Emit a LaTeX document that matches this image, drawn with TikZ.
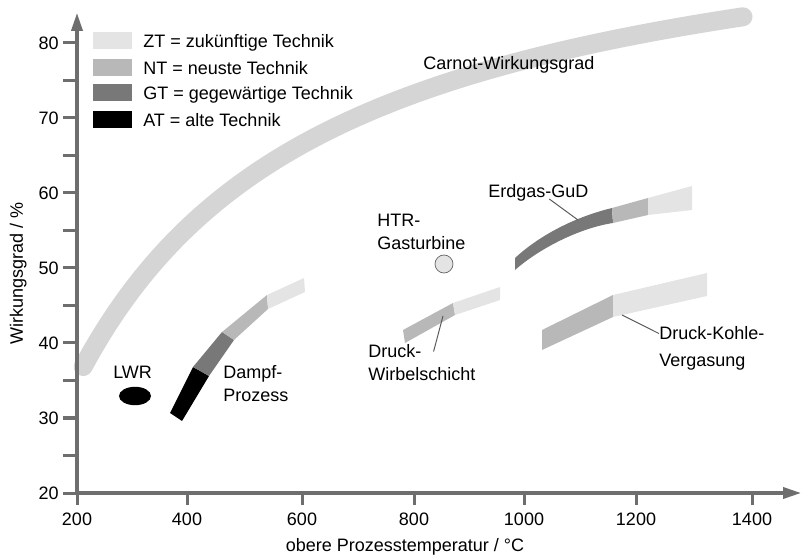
\documentclass[tikz,border=0pt]{standalone}
\usepackage{fontspec}
\setmainfont{Liberation Sans}
\usetikzlibrary{arrows.meta,calc}
\definecolor{zt}{HTML}{E4E4E4}
\definecolor{nt}{HTML}{B8B8B8}
\definecolor{gt}{HTML}{787878}
\definecolor{carnotgrau}{HTML}{D5D5D5}
\definecolor{achsgrau}{HTML}{6E6E6E}

\begin{document}
\begin{tikzpicture}[x=0.025cm,y=-0.025cm,font=\fontsize{12.8}{15}\selectfont]
\tikzset{achse/.style={draw=achsgrau, line width=0.08cm, -{Triangle[length=0.45cm,width=0.28cm]}},
  strich/.style={draw=achsgrau, line width=0.075cm},
  lbl/.style={anchor=base west, inner sep=0pt},
  leader/.style={draw=black!65, line width=0.7pt}}
\useasboundingbox (0,0) rectangle (802,556);
\draw[carnotgrau, line width=0.475cm, line cap=round] plot[domain=211:1384, samples=80]
  ({77+(\x-200)*0.5625}, {493-(82.1-305.17/((\x+257)*0.01))*7.5});
\foreach \v in {20,25,...,80}
  \draw[strich] (63,{493-(\v-20)*7.5}) -- (77,{493-(\v-20)*7.5});
\foreach \v in {20,30,...,80}
  \node[anchor=east, inner sep=0pt] (yl\v) at (59,{493-(\v-20)*7.5}) {\v};
\foreach \t/\xx in {200/77,400/187,600/302,800/414,1000/524,1200/636,1400/752} {
  \draw[strich] (\xx,493) -- (\xx,505);
  \node[inner sep=0pt] (xl\t) at (\xx,519.5) {\t};
}
\draw[achse] (77,493) -- (77,13);
\draw[achse] (75.5,493) -- (801,493);
\node[rotate=90, anchor=base, inner sep=0pt] (ytitel) at (23,273) {Wirkungsgrad / \%};
\node[anchor=base, inner sep=0pt] (xtitel) at (405,551) {obere Prozesstemperatur / °C};
\foreach \f/\y/\t in {zt/32/{ZT = zukünftige Technik}, nt/59/{NT = neuste Technik},
    gt/84/{GT = gegewärtige Technik}, black/111/{AT = alte Technik}} {
  \fill[\f] (93,\y) rectangle (132,\y+17);
  \node[lbl] (leg\f) at (143,\y+16) {\t};
}
\node[lbl] (carnot) at (423,70) {Carnot-Wirkungsgrad};
\fill[black] (170,413) -- (182,421) -- (209,376) -- (193,367) -- cycle;
\fill[gt] (193,367) -- (209,376) -- (234,340) -- (222,332) -- cycle;
\fill[nt] (222,332) -- (234,340) -- (268,309) -- (267,295) -- cycle;
\fill[zt] (267,295) -- (268,309) -- (305,292) -- (304,278) -- cycle;
\fill[nt] (403,330) -- (405,343) -- (455,315) -- (453,303) -- cycle;
\fill[zt] (453,303) -- (455,315) -- (500,300) -- (500,287) -- cycle;
\fill[gt] (515,258) .. controls (540,235) and (575,217) .. (612,208) -- (613,223)
  .. controls (580,228) and (540,248) .. (515,270) -- cycle;
\fill[nt] (612,208) -- (613,223) -- (648,215) -- (648,198) -- cycle;
\fill[zt] (648,198) -- (648,215) -- (692,210) -- (692,186) -- cycle;
\fill[nt] (542,330) -- (542,350) -- (613,317) -- (613,295) -- cycle;
\fill[zt] (613,295) -- (613,317) -- (707,296) -- (707,273) -- cycle;
\fill[black] (135,396) ellipse [x radius=0.4cm, y radius=0.23cm];
\draw[draw=black!60, fill=zt, line width=0.5pt] (444,264) circle [radius=0.225cm];
\node[lbl] (lwr) at (113,379) {LWR};
\node[lbl] (dampf1) at (223,379) {Dampf-};
\node[lbl] (dampf2) at (223,402) {Prozess};
\node[lbl] (htr1) at (377,227) {HTR-};
\node[lbl] (htr2) at (377,250) {Gasturbine};
\node[lbl] (erdgas) at (488,198) {Erdgas-GuD};
\node[lbl] (wirbel1) at (368,358) {Druck-};
\node[lbl] (wirbel2) at (368,381) {Wirbelschicht};
\node[lbl] (kohle1) at (659,340) {Druck-Kohle-};
\node[lbl] (kohle2) at (659,367) {Vergasung};
\coordinate (gudpkt) at (578,220);
\coordinate (wirbelpkt) at (443,316);
\coordinate (kohlepkt) at (622,315);
\draw[leader] ($(erdgas.south)+(11,-3)$) -- (gudpkt);
\draw[leader] ($(wirbel1.east)+(12,0)$) -- (wirbelpkt);
\draw[leader] (kohle1.west) -- (kohlepkt);
\end{tikzpicture}
\end{document}
